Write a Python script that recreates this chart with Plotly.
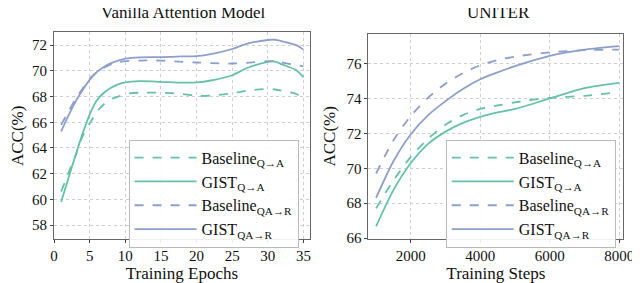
import plotly.graph_objects as go

# ---- Data: Vanilla Attention Model (left) ----
epochs = [1, 2, 3, 4, 5, 6, 7, 8, 9, 10, 12, 15, 18, 20, 22, 25, 27, 30, 31, 32, 34, 35]
van_base_qa = [60.6, 62.0, 63.4, 64.9, 65.9, 66.8, 67.4, 67.8, 68.0, 68.2, 68.3, 68.3, 68.2, 68.05,
               68.07, 68.25, 68.45, 68.6, 68.55, 68.45, 68.2, 67.95]
van_gist_qa = [59.8, 61.6, 63.4, 65.1, 66.6, 67.7, 68.3, 68.68, 68.95, 69.1, 69.2, 69.15, 69.08, 69.1,
               69.25, 69.66, 70.2, 70.7, 70.72, 70.5, 70.05, 69.5]
van_base_qar = [65.8, 66.8, 67.8, 68.6, 69.4, 69.9, 70.25, 70.5, 70.65, 70.75, 70.8, 70.8, 70.7, 70.65,
                70.6, 70.57, 70.62, 70.75, 70.75, 70.65, 70.45, 70.35]
van_gist_qar = [65.3, 66.5, 67.6, 68.5, 69.3, 69.9, 70.3, 70.6, 70.8, 70.95, 71.05, 71.07, 71.12, 71.15,
                71.3, 71.7, 72.1, 72.4, 72.42, 72.3, 72.0, 71.65]

# ---- Data: UNITER (right) ----
steps = [1000, 1500, 2000, 2500, 3000, 3500, 4000, 4500, 5000, 6000, 7000, 8000]
uni_base_qa = [67.7, 69.3, 70.65, 71.7, 72.5, 73.05, 73.4, 73.6, 73.78, 74.04, 74.15, 74.37]
uni_gist_qa = [66.67, 68.75, 70.3, 71.4, 72.1, 72.6, 72.95, 73.2, 73.4, 74.0, 74.6, 74.9]
uni_base_qar = [69.7, 71.6, 73.0, 74.05, 74.85, 75.45, 75.9, 76.2, 76.4, 76.64, 76.77, 76.8]
uni_gist_qar = [68.3, 70.4, 71.95, 73.05, 73.85, 74.55, 75.1, 75.5, 75.85, 76.44, 76.8, 77.0]

left_ticks_x = [0, 5, 10, 15, 20, 25, 30, 35]
left_ticks_y = [58, 60, 62, 64, 66, 68, 70, 72]
right_ticks_x = [2000, 4000, 6000, 8000]
right_ticks_y = [66, 68, 70, 72, 74, 76]

names = ["Baseline<sub>Q→A</sub>", "GIST<sub>Q→A</sub>",
         "Baseline<sub>QA→R</sub>", "GIST<sub>QA→R</sub>"]

GREEN = "#66c2a5"
BLUE = "#8da0cb"
styles = [(GREEN, "dash"), (GREEN, "solid"), (BLUE, "dash"), (BLUE, "solid")]

FONT = "Liberation Serif, Times New Roman, serif"

fig = go.Figure()

for ys, name, (c, d) in zip([van_base_qa, van_gist_qa, van_base_qar, van_gist_qar], names, styles):
    fig.add_trace(go.Scatter(x=epochs, y=ys, name=name, mode="lines",
                             line=dict(color=c, dash=d, width=1.8, shape="spline", smoothing=0.8),
                             xaxis="x", yaxis="y", legend="legend"))
for ys, name, (c, d) in zip([uni_base_qa, uni_gist_qa, uni_base_qar, uni_gist_qar], names, styles):
    fig.add_trace(go.Scatter(x=steps, y=ys, name=name, mode="lines",
                             line=dict(color=c, dash=d, width=1.8, shape="spline", smoothing=0.8),
                             xaxis="x2", yaxis="y2", legend="legend2"))

axis_common = dict(showline=True, linecolor="#666", linewidth=1, mirror=True,
                   showgrid=True, gridcolor="#cfcfcf", griddash="dot", gridwidth=1,
                   ticks="outside", ticklen=3, tickcolor="#444", zeroline=False,
                   tickfont=dict(family=FONT, size=15, color="#111"))

title_font = dict(family=FONT, size=17, color="#111")
legend_common = dict(xanchor="left", yanchor="top",
                     bgcolor="rgba(255,255,255,0.9)", bordercolor="#bbbbbb", borderwidth=1,
                     font=dict(family=FONT, size=16, color="#111"), itemwidth=62,
                     tracegroupgap=0)

fig.update_layout(
    width=640, height=283,
    margin=dict(l=0, r=0, t=0, b=0),
    paper_bgcolor="white", plot_bgcolor="white",
    font=dict(family=FONT, color="#111"),
    xaxis=dict(domain=[0.0672, 0.4766], range=[0, 35.9], tickvals=left_ticks_x,
               title=dict(text="Training Epochs", font=title_font, standoff=0),
               anchor="y", **axis_common),
    yaxis=dict(domain=[0.159, 0.9117], range=[56.9, 73.0], tickvals=left_ticks_y,
               title=dict(text="ACC(%)", font=title_font, standoff=6),
               anchor="x", **axis_common),
    xaxis2=dict(domain=[0.5703, 0.9781], range=[780, 8120], tickvals=right_ticks_x,
                title=dict(text="Training Steps", font=title_font, standoff=0),
                anchor="y2", **axis_common),
    yaxis2=dict(domain=[0.1615, 0.9057], range=[65.97, 77.7], tickvals=right_ticks_y,
                title=dict(text="ACC(%)", font=title_font, standoff=6),
                anchor="x2", **axis_common),
    legend=dict(x=0.1865, y=0.521, **legend_common),
    legend2=dict(x=0.694, y=0.521, **legend_common),
    annotations=[
        dict(text="Vanilla Attention Model", x=0.275, y=1.0, xref="paper", yref="paper",
             xanchor="center", yanchor="top", yshift=7, showarrow=False,
             font=title_font),
        dict(text="UNITER", x=0.778, y=1.0, xref="paper", yref="paper",
             xanchor="center", yanchor="top", yshift=7, showarrow=False,
             font=title_font),
    ],
)

fig.write_html("out.html")
